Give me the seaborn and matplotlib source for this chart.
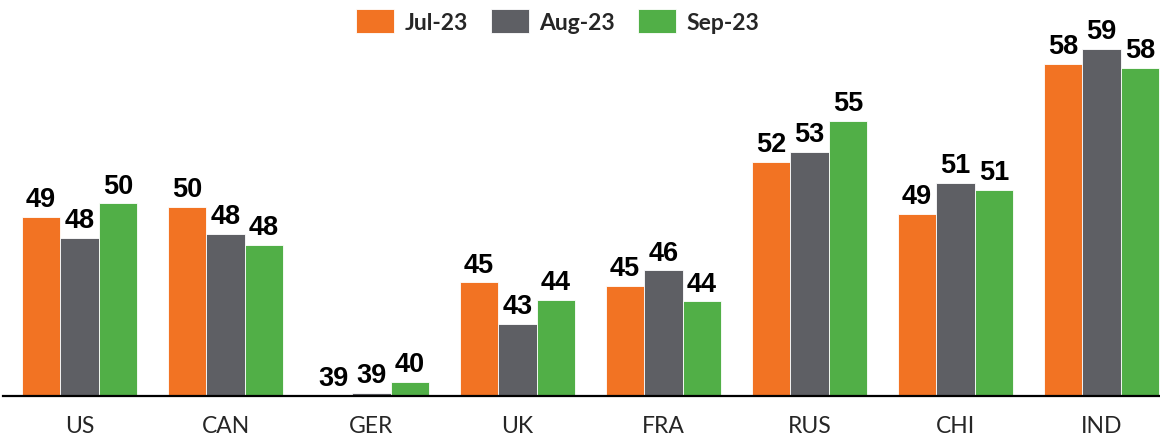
import pandas as pd
import numpy as np
import matplotlib
matplotlib.use('Agg')
import matplotlib.pyplot as plt
import seaborn as sns

# data (index values per country and month)
countries = ['US', 'CAN', 'GER', 'UK', 'FRA', 'RUS', 'CHI', 'IND']
months = ['Jul-23', 'Aug-23', 'Sep-23']
jul = [49.2, 49.8, 38.8, 45.4, 45.2, 52.4, 49.4, 58.1]
aug = [48.0, 48.2, 39.0, 43.0, 46.1, 53.0, 51.2, 59.0]
sep = [50.0, 47.6, 39.6, 44.4, 44.3, 54.8, 50.8, 57.9]
colors = ['#F27323', '#5E5F64', '#51AF47']

df = pd.DataFrame({
    'country': countries * 3,
    'month': [m for m in months for _ in countries],
    'value': jul + aug + sep,
})

sns.set_style('white')
plt.rcParams['font.family'] = ['Lato', 'DejaVu Sans']

fig = plt.figure(figsize=(11.6, 4.39), dpi=100)
ax = fig.add_axes([3 / 1160, 42 / 439, 1157 / 1160, 367 / 439])

sns.barplot(data=df, x='country', y='value', hue='month', palette=colors,
            width=0.79, saturation=1, edgecolor='white', linewidth=0.6, ax=ax)

for cont in ax.containers:
    vals = [b.get_height() for b in cont]
    ax.bar_label(cont, labels=[f'{v:.0f}' for v in vals], padding=3.5,
                 fontsize=19.5, fontweight='bold', family='Liberation Sans', color='black')

ax.set_ylim(38.8, 60.14)
ax.set_xlim(-0.524, 7.40)
ax.set_xlabel('')
ax.set_ylabel('')
ax.set_yticks([])
ax.tick_params(axis='x', length=0, pad=14, labelsize=16.5)
for s in ['left', 'right', 'top']:
    ax.spines[s].set_visible(False)
ax.spines['bottom'].set_color('black')
ax.spines['bottom'].set_linewidth(1.6)

ax.legend(loc='center', bbox_to_anchor=(557.5 / 1160, 1 - 22 / 439), bbox_transform=fig.transFigure,
          ncol=3, frameon=False, prop={'weight': 'bold', 'size': 16.5},
          handlelength=1.66, handleheight=1.2, handletextpad=0.45, columnspacing=1.0)

fig.savefig('out.png', dpi=100)
